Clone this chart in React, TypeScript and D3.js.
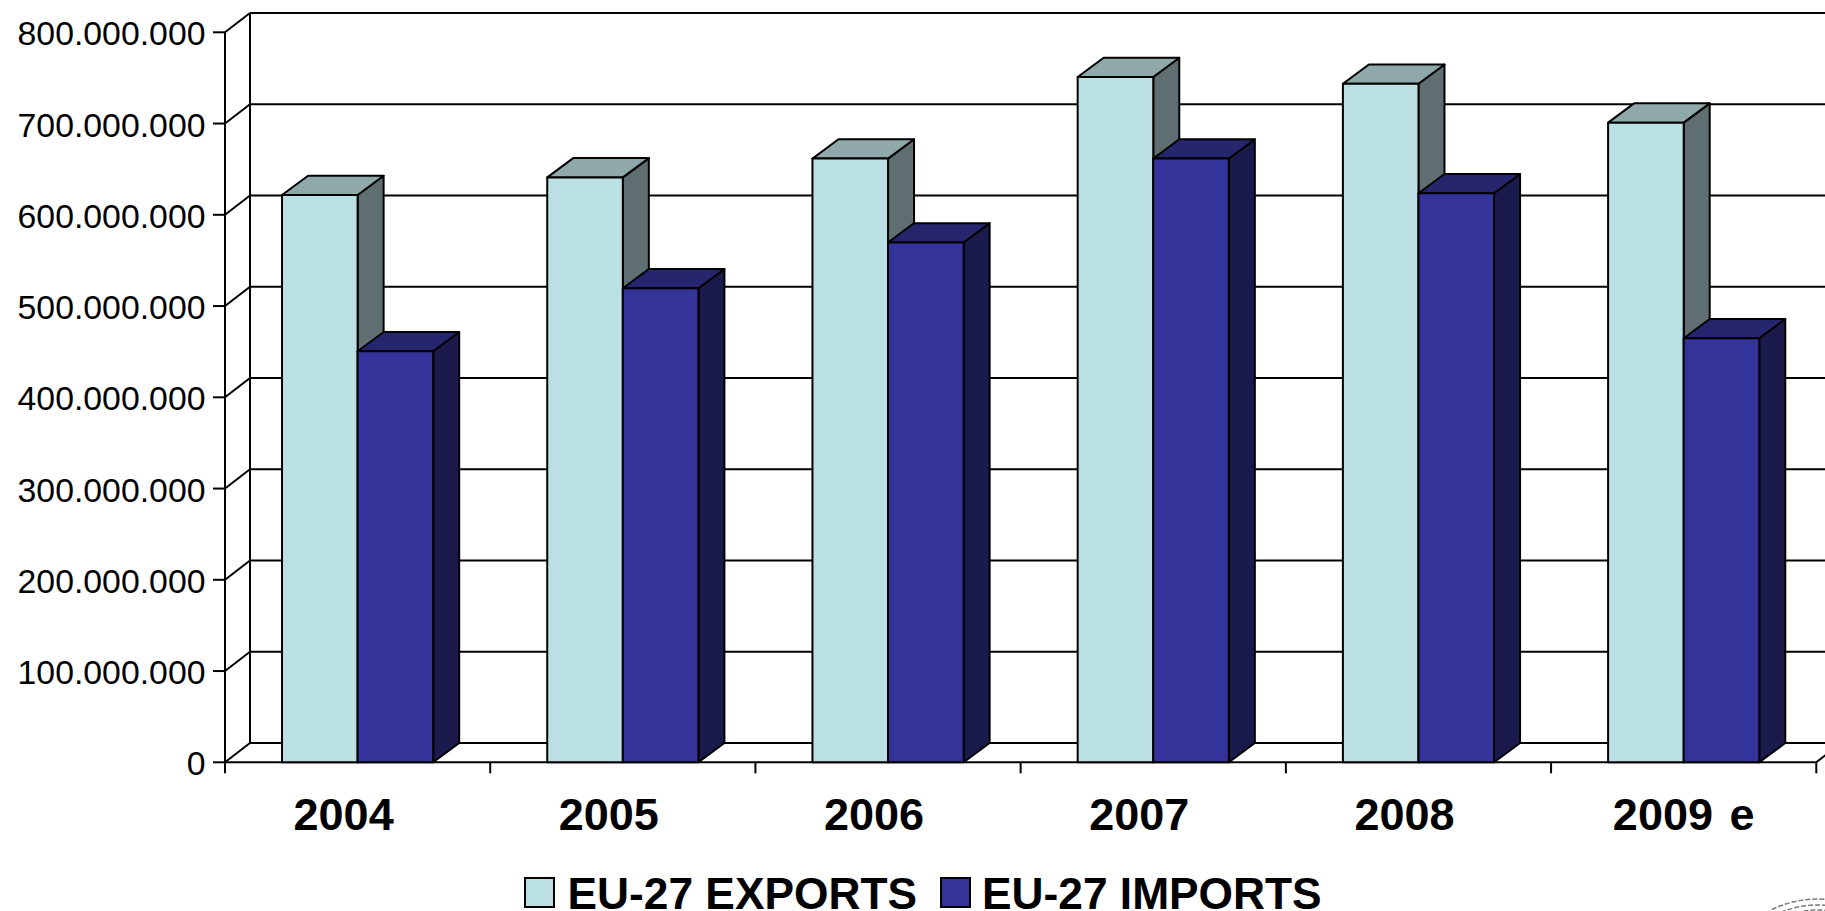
import React, { useEffect, useRef } from 'react'
import * as d3 from 'd3'

const categories = ['2004', '2005', '2006', '2007', '2008', '2009 e']
const seriesNames = ['EU-27 EXPORTS', 'EU-27 IMPORTS']
const exportsValues = [621.7e6, 641e6, 661.6e6, 751e6, 743.6e6, 701e6]
const importsValues = [450.4e6, 519.5e6, 569.7e6, 661.6e6, 623.6e6, 464.7e6]
const yTicks = [0, 100e6, 200e6, 300e6, 400e6, 500e6, 600e6, 700e6, 800e6]

const FONT = '"Liberation Sans", Arial, sans-serif'
// fill colours for front, top and side of each series
const palette = [
  { front: '#bbe0e3', top: '#8fa8aa', side: '#5f6f71' },
  { front: '#333399', top: '#26266f', side: '#1a1a4c' },
]

const depthX = 25
const depthY = -19.3
const barDepth = 26
const left = 225
const right = 1816.3
const y0 = 762.3
const yTop = 32.3

const fmt = (v: number) => d3.format(',')(v).replace(/,/g, '.')

export default function App() {
  const ref = useRef<SVGSVGElement>(null)

  useEffect(() => {
    const svg = d3.select(ref.current)
    svg.selectAll('*').remove()

    const y = d3.scaleLinear().domain([0, 800e6]).range([y0, yTop])
    const x = d3.scaleBand().domain(categories).range([left, right]).paddingInner(0.43).paddingOuter(0.215)
    const x1 = d3.scaleBand().domain(seriesNames).range([0, x.bandwidth()])

    // back wall and floor
    const grid = svg.append('g').attr('fill', 'none').attr('stroke', '#000').attr('stroke-width', 2)
    yTicks.forEach((t) => {
      grid.append('line')
        .attr('x1', left).attr('x2', left + depthX)
        .attr('y1', y(t)).attr('y2', y(t) + depthY)
      grid.append('line')
        .attr('x1', left + depthX).attr('x2', 1825)
        .attr('y1', y(t) + depthY).attr('y2', y(t) + depthY)
      grid.append('line')
        .attr('x1', left - 12).attr('x2', left)
        .attr('y1', y(t)).attr('y2', y(t))
    })
    grid.append('line').attr('x1', left).attr('x2', left).attr('y1', yTop).attr('y2', y0 + 11)
    grid.append('line').attr('x1', left + depthX).attr('x2', left + depthX)
      .attr('y1', yTop + depthY).attr('y2', y0 + depthY)
    grid.append('line').attr('x1', left).attr('x2', right).attr('y1', y0).attr('y2', y0)
    grid.append('line').attr('x1', right).attr('x2', right + depthX).attr('y1', y0).attr('y2', y0 + depthY)
    const step = (right - left) / categories.length
    d3.range(1, categories.length + 1).forEach((i) => {
      grid.append('line')
        .attr('x1', left + step * i).attr('x2', left + step * i)
        .attr('y1', y0).attr('y2', y0 + 11)
    })

    // 3d bars
    const bars = svg.append('g').attr('stroke', '#000').attr('stroke-width', 2).attr('stroke-linejoin', 'round')
    const seriesValues = [exportsValues, importsValues]
    categories.forEach((c, i) => {
      seriesNames.forEach((s, k) => {
        const v = seriesValues[k][i]
        const x0 = (x(c) ?? 0) + (x1(s) ?? 0)
        const w = x1.bandwidth()
        const top = y(v)
        const g = bars.append('g')
        const poly = (pts: number[][], fill: string) =>
          g.append('polygon').attr('points', pts.join(' ')).attr('fill', fill)
        poly([[x0 + w, top], [x0 + w + barDepth, top + depthY], [x0 + w + barDepth, y0 + depthY], [x0 + w, y0]], palette[k].side)
        poly([[x0, top], [x0 + barDepth, top + depthY], [x0 + w + barDepth, top + depthY], [x0 + w, top]], palette[k].top)
        poly([[x0, top], [x0 + w, top], [x0 + w, y0], [x0, y0]], palette[k].front)
      })
    })

    // y labels
    svg.append('g').selectAll('text').data(yTicks).join('text')
      .attr('x', 205.5).attr('y', (d) => y(d) + 13)
      .attr('text-anchor', 'end')
      .attr('font-family', FONT).attr('font-size', 33.8).attr('fill', '#000')
      .text((d) => fmt(d))

    // x labels, the plain years sit a little left of their band
    svg.append('g').selectAll('text').data(categories).join('text')
      .attr('x', (d) => (x(d) ?? 0) + x.bandwidth() / 2 + (d.includes(' ') ? 0 : -14))
      .attr('y', 830)
      .attr('text-anchor', 'middle')
      .attr('font-family', FONT).attr('font-size', 45).attr('font-weight', 700).attr('fill', '#000')
      .attr('word-spacing', 4)
      .text((d) => d)

    // legend
    const legendX = [525, 941]
    const legendTextX = [567.5, 982]
    seriesNames.forEach((s, k) => {
      svg.append('rect')
        .attr('x', legendX[k]).attr('y', 878)
        .attr('width', 29).attr('height', 29)
        .attr('fill', palette[k].front).attr('stroke', '#000').attr('stroke-width', 2)
      svg.append('text')
        .attr('x', legendTextX[k]).attr('y', 909)
        .attr('font-family', FONT).attr('font-size', 44.3).attr('font-weight', 700).attr('fill', '#000')
        .text(s)
    })

    // corner of the logo, cut by the page edge
    const logo = svg.append('g').attr('fill', 'none').attr('stroke', '#444').attr('stroke-width', 1.5)
      .attr('stroke-dasharray', '5 2').attr('opacity', 0.7)
    ;[106, 100, 95].forEach((r) => {
      const p = d3.path()
      p.arc(1818, 1005, r, -Math.PI / 2 - 0.45, -Math.PI / 2 + 0.1)
      logo.append('path').attr('d', p.toString())
    })
  }, [])

  return (
    <svg
      ref={ref}
      width={1825}
      height={911}
      style={{ position: 'absolute', left: 0, top: 0, display: 'block', background: '#fff' }}
    />
  )
}
